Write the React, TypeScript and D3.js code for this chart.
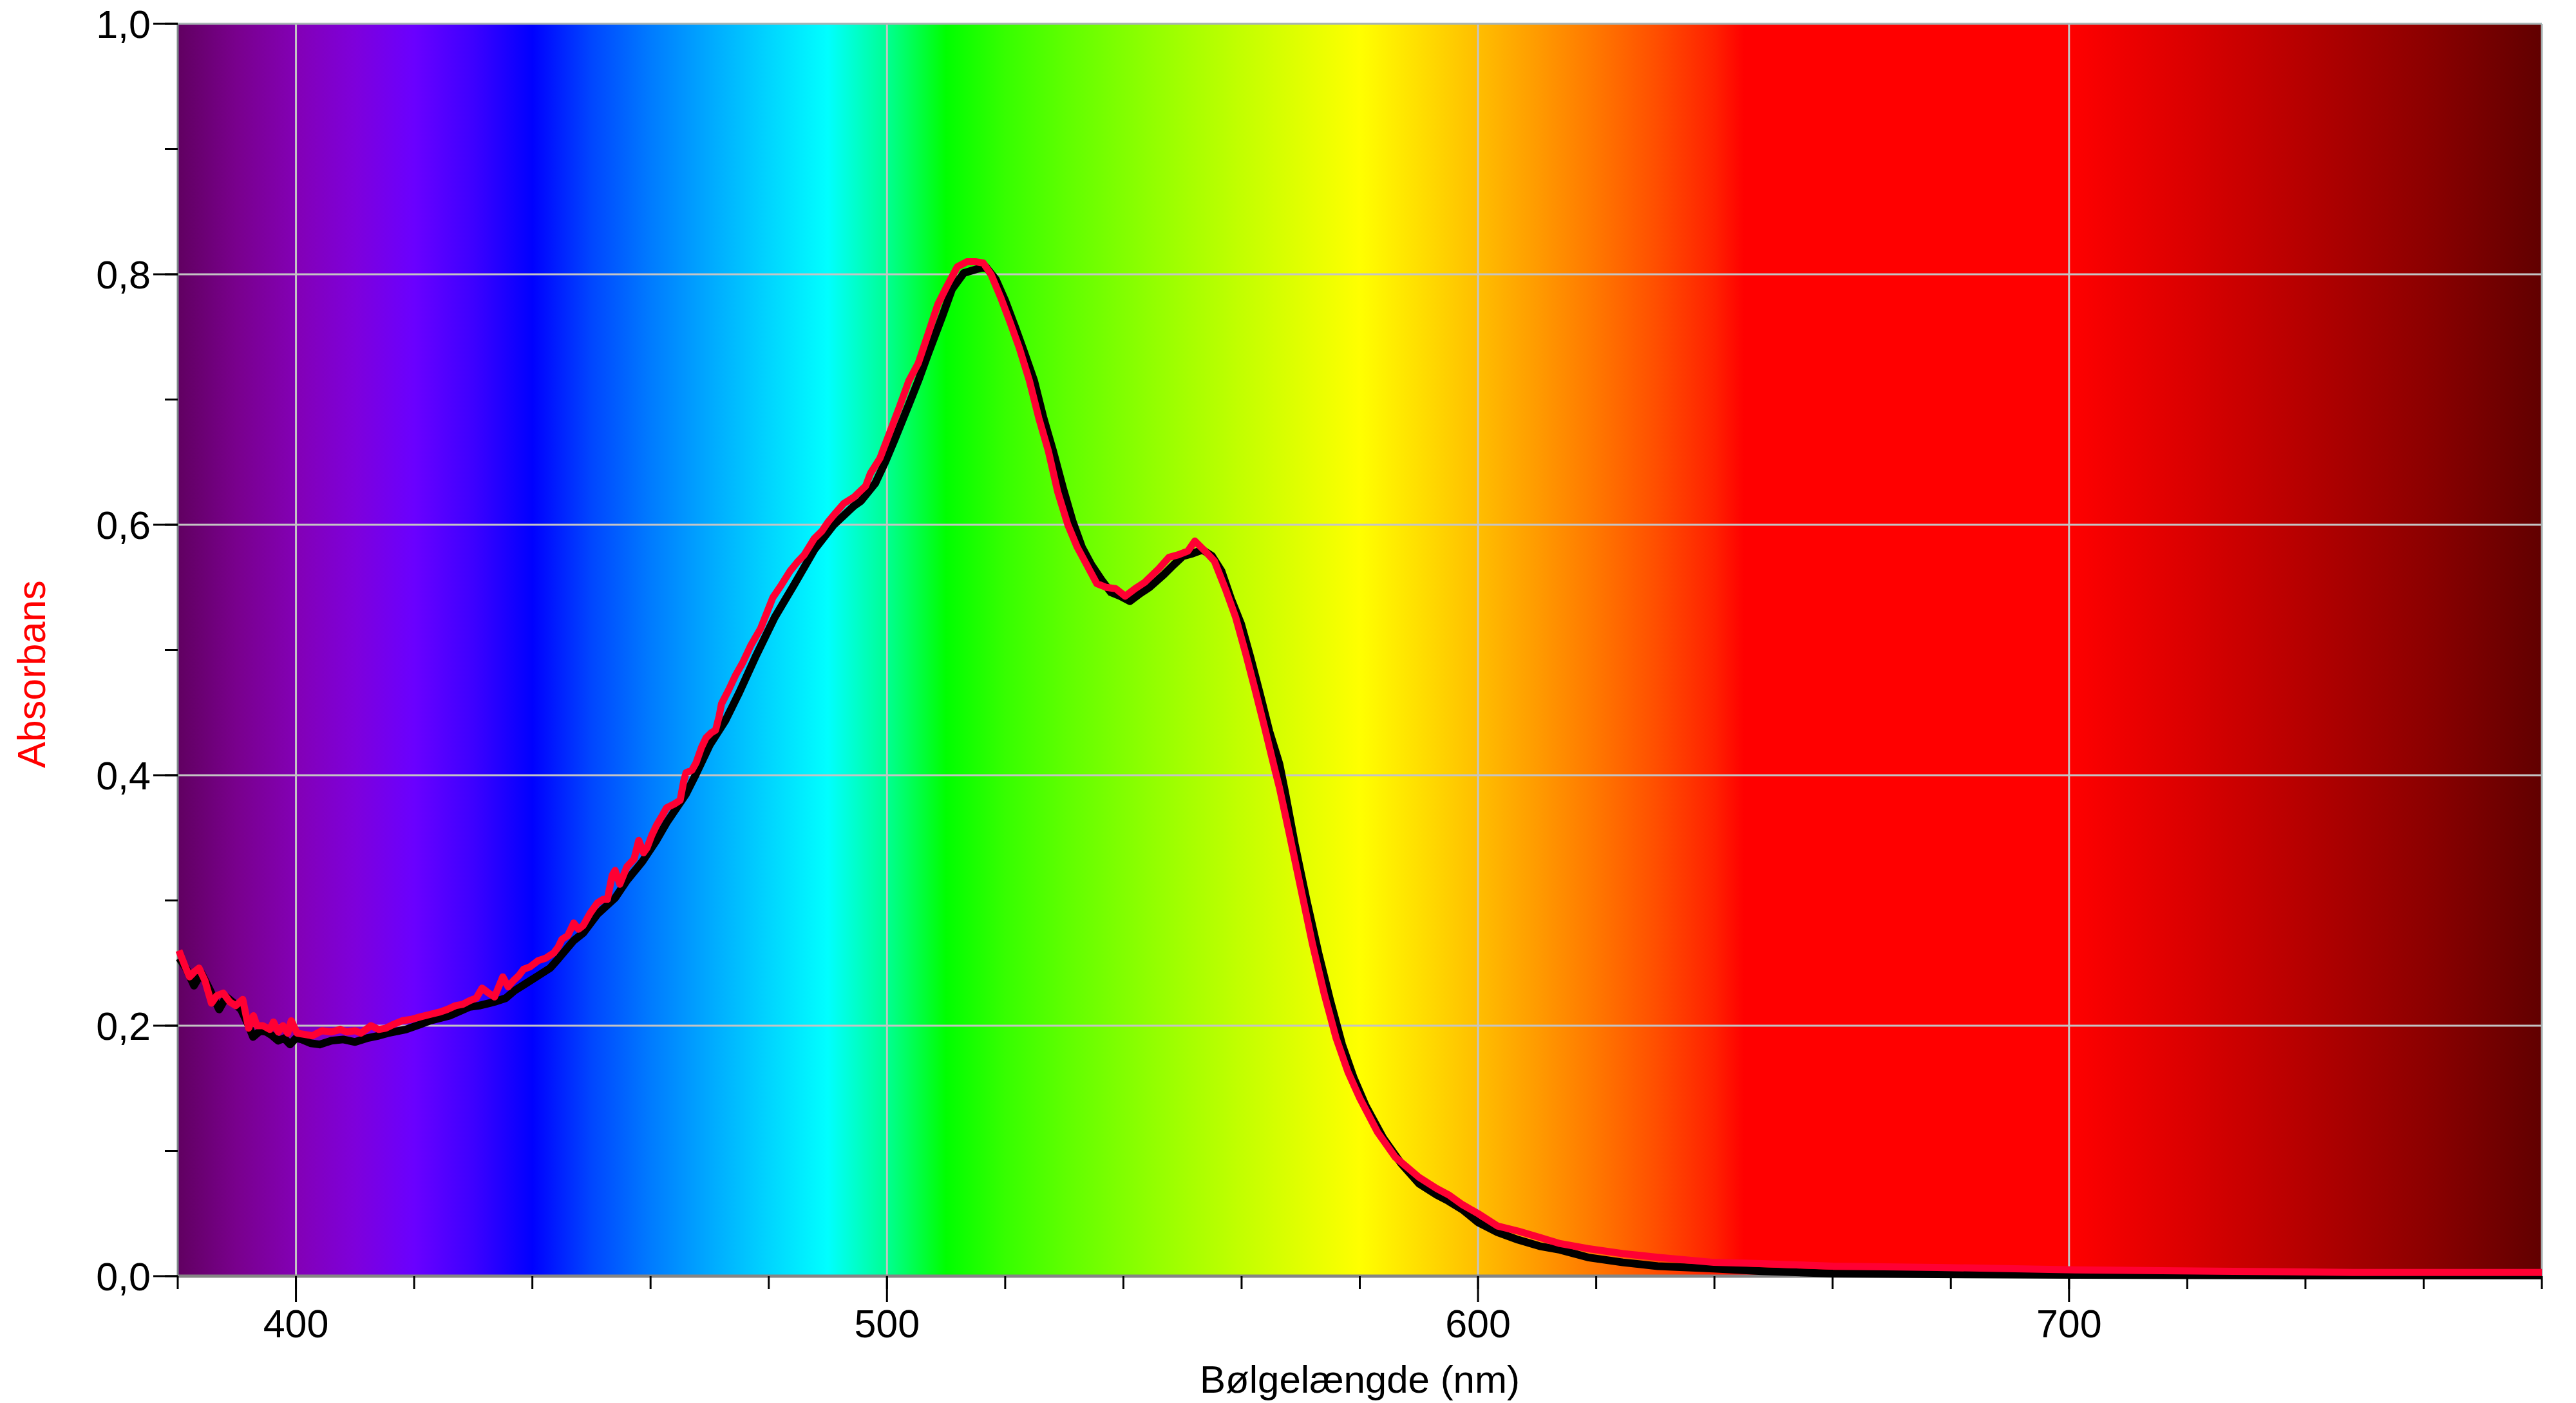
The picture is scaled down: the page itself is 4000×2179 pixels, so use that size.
import React from 'react';
import * as d3 from 'd3';

// Red series (upper curve)
const redNm = [
  380.2, 381.2, 382.0, 382.8, 383.6, 384.6, 385.7, 386.6, 387.7, 388.8, 389.8, 391.0, 392.0, 392.8, 393.4, 394.4,
  395.6, 396.2, 397.0, 397.8, 398.6, 399.2, 400.2, 401.5, 402.8, 404.4, 406.0, 407.5, 408.6, 410.0, 411.0, 412.7,
  414.0, 415.2, 416.5, 418.0, 419.5, 421.0, 422.7, 424.4, 425.6, 427.0, 428.2, 429.4, 430.5, 431.5, 432.6, 433.6,
  435.0, 435.9, 436.8, 437.7, 438.5, 439.6, 441.0, 442.3, 443.6, 444.4, 445.0, 446.0, 447.0, 447.8, 448.6, 449.8,
  451.0, 452.0, 452.7, 453.5, 454.0, 454.8, 456.0, 457.2, 458.0, 458.8, 459.4, 460.2, 461.0, 462.0, 462.7, 464.0,
  465.0, 465.6, 466.0, 467.0, 467.7, 468.6, 469.4, 470.3, 471.0, 471.6, 472.0, 473.2, 474.4, 475.6, 477.0, 478.6,
  479.7, 480.7, 482.0, 483.6, 484.8, 486.0, 487.7, 489.0, 490.0, 491.4, 492.7, 494.4, 496.4, 497.2, 498.8, 500.5,
  502.1, 503.7, 505.3, 507.0, 508.6, 510.2, 511.9, 513.5, 515.1, 516.3, 517.6, 519.2, 520.8, 522.4, 524.1, 525.7,
  527.3, 528.9, 530.6, 532.2, 533.8, 535.5, 537.1, 538.7, 540.3, 542.0, 543.6, 546.0, 547.7, 549.3, 550.9, 552.1,
  553.8, 555.4, 557.4, 559.0, 560.7, 562.3, 563.9, 565.6, 566.4, 568, 570, 572, 574, 576, 578, 580,
  583, 586, 590, 593, 595, 597.4, 600, 603.3, 606.8, 610.4, 613.9, 618.6, 624.5, 630.4, 639.9, 648,
  660, 677.6, 689.4, 701, 724.7, 748, 780,
];
const redAbs = [
  0.260, 0.248, 0.239, 0.243, 0.246, 0.236, 0.218, 0.224, 0.226, 0.219, 0.216, 0.221, 0.198, 0.208, 0.200, 0.200,
  0.197, 0.203, 0.195, 0.200, 0.194, 0.204, 0.194, 0.193, 0.192, 0.196, 0.195, 0.197, 0.195, 0.196, 0.194, 0.200,
  0.197, 0.198, 0.201, 0.204, 0.205, 0.207, 0.209, 0.211, 0.213, 0.216, 0.217, 0.220, 0.222, 0.230, 0.226, 0.223,
  0.239, 0.231, 0.236, 0.240, 0.245, 0.247, 0.252, 0.254, 0.258, 0.263, 0.269, 0.272, 0.282, 0.277, 0.280, 0.290,
  0.298, 0.301, 0.301, 0.320, 0.324, 0.313, 0.327, 0.333, 0.348, 0.338, 0.342, 0.352, 0.360, 0.368, 0.374, 0.377,
  0.380, 0.395, 0.402, 0.404, 0.410, 0.422, 0.430, 0.434, 0.436, 0.447, 0.457, 0.468, 0.480, 0.490, 0.504, 0.517,
  0.530, 0.542, 0.551, 0.563, 0.570, 0.576, 0.589, 0.595, 0.602, 0.610, 0.617, 0.622, 0.631, 0.641, 0.653, 0.674,
  0.694, 0.715, 0.729, 0.753, 0.776, 0.791, 0.806, 0.810, 0.810, 0.809, 0.800, 0.782, 0.762, 0.741, 0.715, 0.685,
  0.659, 0.626, 0.600, 0.582, 0.568, 0.553, 0.550, 0.549, 0.543, 0.549, 0.554, 0.565, 0.574, 0.576, 0.579, 0.587,
  0.579, 0.571, 0.547, 0.526, 0.497, 0.468, 0.438, 0.405, 0.390, 0.355, 0.310, 0.265, 0.225, 0.190, 0.163, 0.142,
  0.115, 0.095, 0.079, 0.070, 0.065, 0.057, 0.050, 0.040, 0.036, 0.031, 0.026, 0.022, 0.018, 0.015, 0.011, 0.010,
  0.008, 0.007, 0.006, 0.005, 0.004, 0.003, 0.003,
];

// Black series (lower curve)
const blackNm = [
  380.25, 381.5, 382.75, 384.0, 385.5, 387.0, 388.2, 389.5, 390.7, 392.0, 392.75, 394.0, 395.0, 396.0, 397.0, 398.0,
  399.0, 400.0, 401.0, 402.5, 404.0, 406.0, 408.0, 410.0, 412.0, 414.0, 415.5, 418.6, 421.0, 422.7, 426.0, 429.4,
  431.0, 433.6, 435.5, 437.0, 439.0, 441.0, 443.0, 444.5, 447.0, 448.6, 451.0, 454.0, 456.0, 458.6, 461.0, 462.7,
  466.0, 467.7, 470.0, 472.7, 475.0, 477.7, 481.0, 484.4, 487.7, 491.0, 494.4, 495.6, 498.0, 499.7, 501.3, 503.7,
  505.3, 507.0, 509.4, 511.0, 513.0, 515.1, 516.7, 518.4, 520.0, 521.6, 523.2, 524.9, 526.5, 528.1, 529.8, 531.4,
  533.0, 534.6, 536.3, 537.9, 539.5, 541.1, 542.8, 544.4, 546.8, 548.5, 550.1, 551.7, 553.4, 555.0, 556.6, 558.2,
  559.9, 561.5, 563.1, 564.7, 566.4, 567.3, 569, 571, 573, 575, 577, 579, 581, 584, 587, 590,
  593, 595, 597.4, 600, 603.3, 606.8, 610.4, 613.9, 618.6, 624.5, 630.4, 639.9, 648, 660, 677.6, 701,
  740, 780,
];
const blackAbs = [
  0.254, 0.245, 0.232, 0.242, 0.228, 0.213, 0.223, 0.218, 0.213, 0.200, 0.191, 0.196, 0.195, 0.192, 0.188, 0.190,
  0.185, 0.190, 0.189, 0.186, 0.185, 0.188, 0.189, 0.187, 0.190, 0.192, 0.194, 0.197, 0.201, 0.204, 0.208, 0.215,
  0.216, 0.219, 0.222, 0.228, 0.234, 0.240, 0.246, 0.254, 0.268, 0.274, 0.289, 0.302, 0.316, 0.331, 0.348, 0.362,
  0.385, 0.401, 0.424, 0.444, 0.466, 0.494, 0.526, 0.553, 0.580, 0.600, 0.615, 0.619, 0.633, 0.650, 0.668, 0.696,
  0.715, 0.737, 0.767, 0.788, 0.801, 0.804, 0.806, 0.796, 0.779, 0.759, 0.738, 0.715, 0.685, 0.659, 0.629, 0.603,
  0.582, 0.568, 0.556, 0.546, 0.543, 0.539, 0.545, 0.550, 0.560, 0.568, 0.575, 0.577, 0.580, 0.575, 0.563, 0.541,
  0.521, 0.494, 0.465, 0.435, 0.409, 0.388, 0.345, 0.300, 0.258, 0.220, 0.185, 0.158, 0.136, 0.110, 0.090, 0.074,
  0.065, 0.060, 0.053, 0.043, 0.035, 0.029, 0.024, 0.021, 0.015, 0.011, 0.008, 0.006, 0.004, 0.002, 0.0015, 0.001,
  0.0005, 0.0005,
];

// Axis ticks
const xLabelTicks = [400, 500, 600, 700];
const yLabelTicks = [0, 0.2, 0.4, 0.6, 0.8, 1.0];

// Background spectrum colour stops (wavelength, colour)
const spectrumNm = [380, 390, 400, 410, 420, 430, 440, 450, 460, 470, 480, 490, 500, 510, 520, 530, 540, 550, 560, 570, 580, 590, 600, 610, 620, 630, 640, 645, 700, 710, 720, 740, 760, 780];
const spectrumColors = [
  '#610061', '#79008d', '#8300b5', '#7e00db', '#6a00ff', '#3d00ff', '#0000ff', '#0046ff', '#007bff', '#00a9ff',
  '#00d5ff', '#00ffff', '#00ff92', '#00ff00', '#36ff00', '#5eff00', '#81ff00', '#a3ff00', '#c3ff00', '#e1ff00',
  '#ffff00', '#ffdf00', '#ffbe00', '#ff9b00', '#ff7700', '#ff4f00', '#ff2100', '#ff0000', '#ff0000', '#ed0000',
  '#db0000', '#b50000', '#8d0000', '#610000',
];

const FONT = "Arial, 'Liberation Sans', sans-serif";

export default function App() {
  const W = 4000;
  const H = 2179;
  const left = 276, right = 3947, top = 37, bottom = 1982;

  const x = d3.scaleLinear().domain([380, 780]).range([left, right]);
  const y = d3.scaleLinear().domain([0, 1]).range([bottom, top]);

  const redData = redNm.map((n, i) => [n, redAbs[i]] as [number, number]);
  const blackData = blackNm.map((n, i) => [n, blackAbs[i]] as [number, number]);

  const line = d3
    .line<[number, number]>()
    .x((d) => x(d[0]))
    .y((d) => y(d[1]));

  const xMinor = d3.range(380, 781, 20);
  const yMinor = d3.range(0, 1.0001, 0.1);
  const fmt = (v: number) => d3.format('.1f')(v).replace('.', ',');

  const span = 780 - 380;

  return (
    <svg
      width={W}
      height={H}
      viewBox={`0 0 ${W} ${H}`}
      style={{ position: 'absolute', left: 0, top: 0, background: '#fff' }}
    >
      <defs>
        <linearGradient id="spec" x1="0" x2="1" y1="0" y2="0">
          {spectrumNm.map((n, i) => (
            <stop key={i} offset={(n - 380) / span} stopColor={spectrumColors[i]} />
          ))}
        </linearGradient>
        <clipPath id="plotClip">
          <rect x={left - 6} y={top} width={right - left + 12} height={bottom - top + 6} />
        </clipPath>
      </defs>

      <rect x={left} y={top} width={right - left} height={bottom - top} fill="url(#spec)" />

      {/* grid */}
      {xLabelTicks.map((t) => (
        <line key={'gx' + t} x1={x(t)} x2={x(t)} y1={top} y2={bottom} stroke="#c4c4c4" strokeWidth={3} />
      ))}
      {yLabelTicks.filter((t) => t > 0 && t < 1).map((t) => (
        <line key={'gy' + t} x1={left} x2={right} y1={y(t)} y2={y(t)} stroke="#c4c4c4" strokeWidth={3} />
      ))}

      {/* frame */}
      <line x1={left} x2={right} y1={top} y2={top} stroke="#a8b4b4" strokeWidth={3} />
      <line x1={right} x2={right} y1={top} y2={bottom} stroke="#a8b4b4" strokeWidth={3} />
      <line x1={left} x2={left} y1={top} y2={bottom} stroke="#7f8a8a" strokeWidth={3} />
      <line x1={left} x2={right} y1={bottom} y2={bottom} stroke="#858585" strokeWidth={5} />

      {/* data */}
      <g clipPath="url(#plotClip)">
        <path d={line(blackData) || ''} fill="none" stroke="#000" strokeWidth={12} strokeLinejoin="round" />
        <path d={line(redData) || ''} fill="none" stroke="#ff0033" strokeWidth={11} strokeLinejoin="round" />
      </g>

      {/* x ticks */}
      {xMinor.map((t) => (
        <line key={'xt' + t} x1={x(t)} x2={x(t)} y1={bottom} y2={bottom + 20} stroke="#000" strokeWidth={3} />
      ))}
      {xLabelTicks.map((t) => (
        <line key={'xT' + t} x1={x(t)} x2={x(t)} y1={bottom} y2={bottom + 40} stroke="#000" strokeWidth={3} />
      ))}
      {xLabelTicks.map((t) => (
        <text key={'xl' + t} x={x(t)} y={2077} fontFamily={FONT} fontSize={61} textAnchor="middle" fill="#000">
          {t}
        </text>
      ))}

      {/* y ticks */}
      {yMinor.map((t, i) => (
        <line key={'yt' + i} x1={left - 20} x2={left} y1={y(t)} y2={y(t)} stroke="#000" strokeWidth={3} />
      ))}
      {yLabelTicks.map((t) => (
        <line key={'yT' + t} x1={left - 38} x2={left} y1={y(t)} y2={y(t)} stroke="#000" strokeWidth={3} />
      ))}
      {yLabelTicks.map((t) => (
        <text key={'yl' + t} x={234} y={y(t) + 22} fontFamily={FONT} fontSize={61} textAnchor="end" fill="#000">
          {fmt(t)}
        </text>
      ))}

      {/* titles */}
      <text x={(left + right) / 2} y={2163} fontFamily={FONT} fontSize={60} textAnchor="middle" fill="#000">
        Bølgelængde (nm)
      </text>
      <text
        transform={`translate(70, 1047) rotate(-90)`}
        fontFamily={FONT}
        fontSize={61}
        textAnchor="middle"
        fill="#ff0000"
      >
        Absorbans
      </text>
    </svg>
  );
}
